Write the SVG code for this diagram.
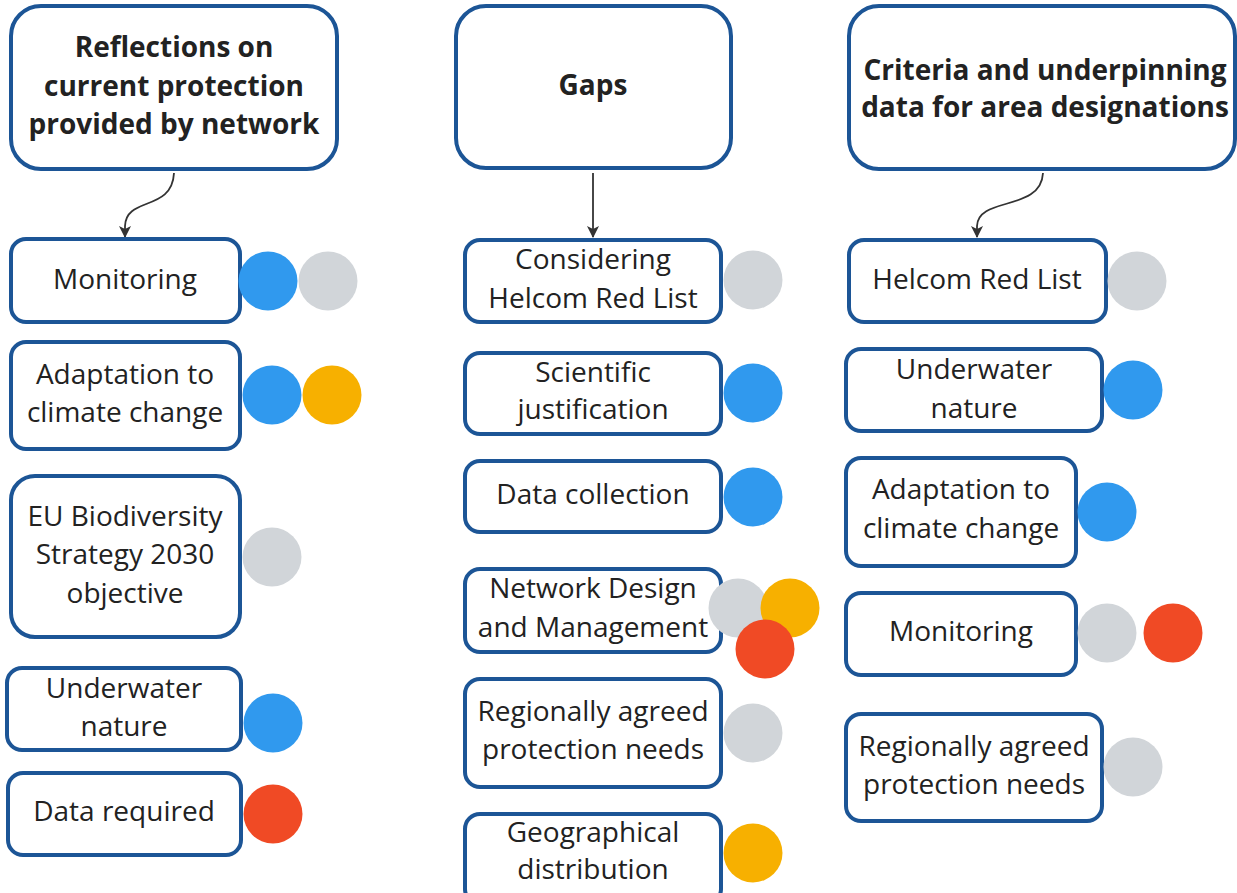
<svg xmlns="http://www.w3.org/2000/svg" width="1237" height="893" viewBox="0 0 1237 893">
<defs>
<style>
.box{fill:#fff;stroke:#1c5596;stroke-width:4}
.t{font-family:"Open Sans","Noto Sans","Liberation Sans",sans-serif;font-size:28px;fill:#222;text-anchor:middle}
.h{font-weight:700}
.blue{fill:#3099ee}
.grey{fill:#d1d5d9}
.yellow{fill:#f7b000}
.red{fill:#f04a25}
.conn{fill:none;stroke:#333;stroke-width:1.8}
</style>
<marker id="arr" viewBox="0 0 12 12" refX="11" refY="6" markerWidth="12" markerHeight="12" markerUnits="userSpaceOnUse" orient="auto">
<path d="M0,0 L12,6 L0,12 L3,6 Z" fill="#333"/>
</marker>
</defs>
<rect width="1237" height="893" fill="#fff"/>

<g id="connectors">
<path class="conn" d="M174,173 C172,212 126,196 125,226 L125,237" marker-end="url(#arr)"/>
<path class="conn" d="M593,173 L593,237" marker-end="url(#arr)"/>
<path class="conn" d="M1043,173 C1041,212 978,196 977,226 L977,237" marker-end="url(#arr)"/>
</g>

<!-- Column 1 -->
<g id="h1">
<rect class="box" x="11" y="6" width="326" height="163" rx="30"/>
<text class="t h" x="174" y="57">Reflections on</text>
<text class="t h" x="174" y="96">current protection</text>
<text class="t h" x="174" y="134">provided by network</text>
</g>
<g id="c1n1">
<rect class="box" x="11" y="239" width="229" height="83" rx="15"/>
<text class="t" x="125" y="289">Monitoring</text>
<circle class="blue" cx="268" cy="281" r="29.5"/>
<circle class="grey" cx="328" cy="281" r="29.5"/>
</g>
<g id="c1n2">
<rect class="box" x="11" y="342" width="229" height="107" rx="15"/>
<text class="t" x="125" y="384">Adaptation to</text>
<text class="t" x="125" y="422">climate change</text>
<circle class="blue" cx="272" cy="395" r="29.5"/>
<circle class="yellow" cx="332" cy="395" r="29.5"/>
</g>
<g id="c1n3">
<rect class="box" x="11" y="476" width="229" height="161" rx="24"/>
<text class="t" x="125" y="526">EU Biodiversity</text>
<text class="t" x="125" y="564">Strategy 2030</text>
<text class="t" x="125" y="603">objective</text>
<circle class="grey" cx="272" cy="557" r="29.5"/>
</g>
<g id="c1n4">
<rect class="box" x="7" y="668" width="234" height="82" rx="15"/>
<text class="t" x="124" y="698">Underwater</text>
<text class="t" x="124" y="736">nature</text>
<circle class="blue" cx="273" cy="723" r="29.5"/>
</g>
<g id="c1n5">
<rect class="box" x="8" y="773" width="233" height="82" rx="15"/>
<text class="t" x="124" y="821">Data required</text>
<circle class="red" cx="273" cy="814" r="29.5"/>
</g>

<!-- Column 2 -->
<g id="h2">
<rect class="box" x="456" y="6" width="275" height="162" rx="30"/>
<text class="t h" x="593" y="95">Gaps</text>
</g>
<g id="c2n1">
<rect class="box" x="465" y="240" width="256" height="82" rx="15"/>
<text class="t" x="593" y="269">Considering</text>
<text class="t" x="593" y="308">Helcom Red List</text>
<circle class="grey" cx="753" cy="280" r="29.5"/>
</g>
<g id="c2n2">
<rect class="box" x="465" y="353" width="256" height="81" rx="15"/>
<text class="t" x="593" y="382">Scientific</text>
<text class="t" x="593" y="419">justification</text>
<circle class="blue" cx="753" cy="393" r="29.5"/>
</g>
<g id="c2n3">
<rect class="box" x="465" y="461" width="256" height="71" rx="15"/>
<text class="t" x="593" y="504">Data collection</text>
<circle class="blue" cx="753" cy="497" r="29.5"/>
</g>
<g id="c2n4">
<rect class="box" x="465" y="569" width="256" height="83" rx="15"/>
<text class="t" x="593" y="598">Network Design</text>
<text class="t" x="593" y="637">and Management</text>
<circle class="grey" cx="738" cy="608" r="29.5"/>
<circle class="yellow" cx="790" cy="608" r="29.5"/>
<circle class="red" cx="765" cy="649" r="29.5"/>
</g>
<g id="c2n5">
<rect class="box" x="465" y="679" width="256" height="108" rx="15"/>
<text class="t" x="593" y="721">Regionally agreed</text>
<text class="t" x="593" y="759">protection needs</text>
<circle class="grey" cx="753" cy="733" r="29.5"/>
</g>
<g id="c2n6">
<rect class="box" x="465" y="814" width="256" height="90" rx="15"/>
<text class="t" x="593" y="842">Geographical</text>
<text class="t" x="593" y="879">distribution</text>
<circle class="yellow" cx="753" cy="853" r="29.5"/>
</g>

<!-- Column 3 -->
<g id="h3">
<rect class="box" x="849" y="6" width="386" height="163" rx="30"/>
<text class="t h" x="1045" y="80">Criteria and underpinning</text>
<text class="t h" x="1045" y="117">data for area designations</text>
</g>
<g id="c3n1">
<rect class="box" x="849" y="240" width="257" height="82" rx="15"/>
<text class="t" x="977" y="289">Helcom Red List</text>
<circle class="grey" cx="1137" cy="281" r="29.5"/>
</g>
<g id="c3n2">
<rect class="box" x="846" y="349" width="256" height="82" rx="15"/>
<text class="t" x="974" y="379">Underwater</text>
<text class="t" x="974" y="418">nature</text>
<circle class="blue" cx="1133" cy="390" r="29.5"/>
</g>
<g id="c3n3">
<rect class="box" x="846" y="458" width="230" height="108" rx="15"/>
<text class="t" x="961" y="499">Adaptation to</text>
<text class="t" x="961" y="538">climate change</text>
<circle class="blue" cx="1107" cy="512" r="29.5"/>
</g>
<g id="c3n4">
<rect class="box" x="846" y="593" width="230" height="82" rx="15"/>
<text class="t" x="961" y="641">Monitoring</text>
<circle class="grey" cx="1107" cy="633" r="29.5"/>
<circle class="red" cx="1173" cy="633" r="29.5"/>
</g>
<g id="c3n5">
<rect class="box" x="846" y="714" width="256" height="107" rx="15"/>
<text class="t" x="974" y="756">Regionally agreed</text>
<text class="t" x="974" y="794">protection needs</text>
<circle class="grey" cx="1133" cy="767" r="29.5"/>
</g>
</svg>
